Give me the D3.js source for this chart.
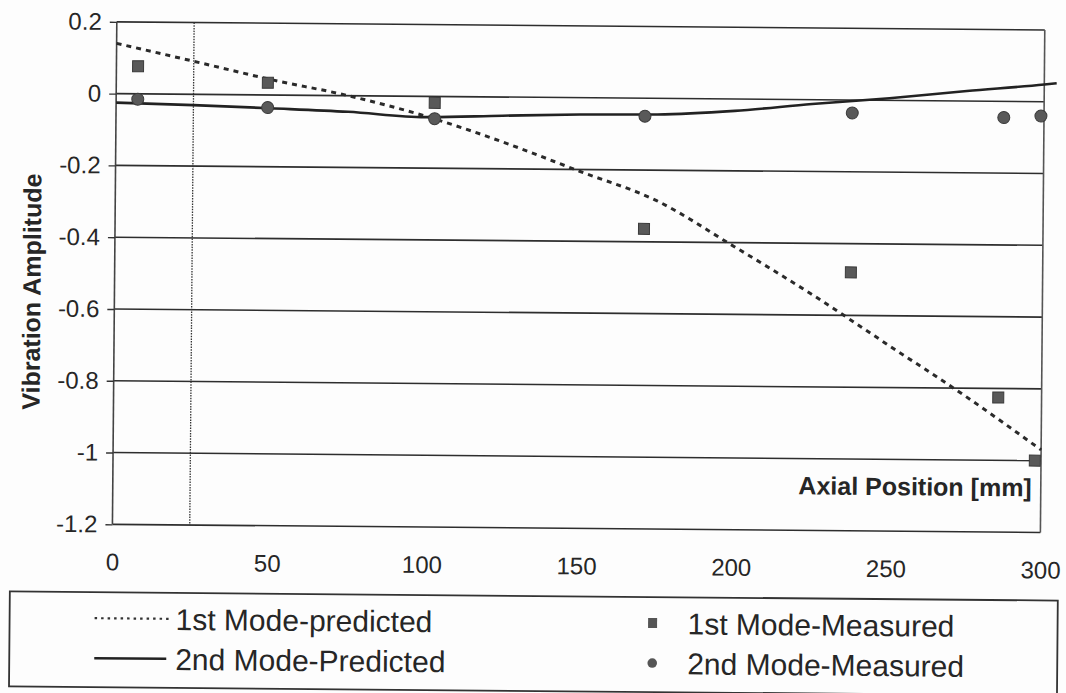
<!DOCTYPE html>
<html>
<head>
<meta charset="utf-8">
<script src="https://cdn.jsdelivr.net/npm/d3@7"></script>
<style>
  html, body { margin: 0; padding: 0; background: #fdfdfd; }
  svg { display: block; }
  text { font-family: "Liberation Sans", Arial, sans-serif; fill: #262626; }
</style>
</head>
<body>
<svg id="chart" width="1066" height="693"></svg>
<script>
// Axial positions (mm) for the predicted mode shapes
const predX = [0, 25, 50, 75, 100, 125, 150, 175, 200, 225, 250, 275, 300];
const mode1Predicted = [0.14, 0.092, 0.043, 0.0, -0.055, -0.125, -0.205, -0.285, -0.41, -0.54, -0.68, -0.82, -0.97];
const mode2PredX = [0, 25, 50, 75, 100, 125, 150, 175, 200, 225, 250, 275, 300, 304];
const mode2Predicted = [-0.025, -0.03, -0.037, -0.045, -0.058, -0.052, -0.047, -0.045, -0.033, -0.012, 0.006, 0.028, 0.048, 0.052];

// Measured points
const mode1MeasX = [7, 49, 103, 171, 238, 286, 298];
const mode1Measured = [0.077, 0.034, -0.018, -0.364, -0.48, -0.825, -1.0];
const mode2MeasX = [7, 49, 103, 171, 238, 287, 299];
const mode2Measured = [-0.015, -0.035, -0.062, -0.05, -0.036, -0.045, -0.04];

const xTicks = [0, 50, 100, 150, 200, 250, 300];
const yTicks = [0.2, 0, -0.2, -0.4, -0.6, -0.8, -1, -1.2];
const markerLine = 25; // vertical reference line position (mm)

const legendItems = [
  { label: "1st Mode-predicted", kind: "dotted", col: 0, row: 0 },
  { label: "2nd Mode-Predicted", kind: "solid", col: 0, row: 1 },
  { label: "1st Mode-Measured", kind: "square", col: 1, row: 0 },
  { label: "2nd Mode-Measured", kind: "circle", col: 1, row: 1 }
];

const svg = d3.select("#chart");
const root = svg.append("g").attr("transform", "rotate(0.5,533,346)");

const plot = { left: 114, right: 1042, top: 25.5, bottom: 528 };
const x = d3.scaleLinear().domain([0, 300]).range([plot.left, plot.right]);
const y = d3.scaleLinear().domain([-1.2, 0.2]).range([plot.bottom, plot.top]);

// horizontal gridlines
root.append("g").selectAll("line").data(yTicks).join("line")
  .attr("x1", plot.left).attr("x2", plot.right)
  .attr("y1", d => y(d)).attr("y2", d => y(d))
  .attr("stroke", "#2e2e2e").attr("stroke-width", 1.6);

// left / right frame
root.append("line").attr("x1", plot.left).attr("x2", plot.left)
  .attr("y1", plot.top).attr("y2", plot.bottom)
  .attr("stroke", "#444").attr("stroke-width", 1.6);
root.append("line").attr("x1", plot.right).attr("x2", plot.right)
  .attr("y1", plot.top).attr("y2", plot.bottom)
  .attr("stroke", "#555").attr("stroke-width", 1.6);

// y axis (ticks and labels)
const yAxis = d3.axisLeft(y).tickValues(yTicks).tickSize(7).tickPadding(8)
  .tickFormat(d => d3.format("")(Math.round(d * 10) / 10).replace("−", "-"));
const yg = root.append("g").attr("transform", `translate(${plot.left},0)`).call(yAxis);
yg.select(".domain").remove();
yg.selectAll(".tick line").attr("stroke", "#333").attr("stroke-width", 1.4);
yg.selectAll(".tick text").attr("font-size", 24).attr("fill", "#262626")
  .attr("font-family", "Liberation Sans, Arial, sans-serif").attr("x", -15);

// x axis labels (no tick marks)
const xAxis = d3.axisBottom(x).tickValues(xTicks).tickSize(0).tickPadding(0);
const xg = root.append("g").attr("transform", `translate(0,${plot.bottom})`).call(xAxis);
xg.select(".domain").remove();
xg.selectAll(".tick text").attr("font-size", 24).attr("fill", "#262626")
  .attr("font-family", "Liberation Sans, Arial, sans-serif")
  .attr("dy", null).attr("y", 46);

// vertical dotted reference line
root.append("line")
  .attr("x1", x(markerLine)).attr("x2", x(markerLine))
  .attr("y1", plot.top).attr("y2", plot.bottom)
  .attr("stroke", "#333").attr("stroke-width", 1.3)
  .attr("stroke-dasharray", "1.5,1.2");

// axis titles
root.append("text")
  .attr("transform", `translate(40,296) rotate(-90)`)
  .attr("text-anchor", "middle").attr("font-size", 25).attr("font-weight", "bold")
  .text("Vibration Amplitude");
root.append("text")
  .attr("x", 1033).attr("y", 492).attr("text-anchor", "end")
  .attr("font-size", 25).attr("font-weight", "bold")
  .text("Axial Position [mm]");

// predicted curves
const line = d3.line().curve(d3.curveMonotoneX);
root.append("path")
  .attr("d", line(predX.map((d, i) => [x(d), y(mode1Predicted[i])])))
  .attr("fill", "none").attr("stroke", "#2a2a2a").attr("stroke-width", 3)
  .attr("stroke-dasharray", "5,5");
root.append("path")
  .attr("d", line(mode2PredX.map((d, i) => [x(d), y(mode2Predicted[i])])))
  .attr("fill", "none").attr("stroke", "#222").attr("stroke-width", 2.6);

// measured markers
const sq = 11;
root.append("g").selectAll("rect").data(mode1MeasX).join("rect")
  .attr("x", (d) => x(d) - sq / 2)
  .attr("y", (d, i) => y(mode1Measured[i]) - sq / 2)
  .attr("width", sq).attr("height", sq)
  .attr("fill", "#595959").attr("stroke", "#3a3a3a").attr("stroke-width", 1);
root.append("g").selectAll("circle").data(mode2MeasX).join("circle")
  .attr("cx", d => x(d))
  .attr("cy", (d, i) => y(mode2Measured[i]))
  .attr("r", 6)
  .attr("fill", "#595959").attr("stroke", "#3a3a3a").attr("stroke-width", 1);

// legend
const lg = root.append("g");
lg.append("rect").attr("x", 12).attr("y", 596).attr("width", 1048).attr("height", 95)
  .attr("fill", "none").attr("stroke", "#333").attr("stroke-width", 1.8);
const colX = [97, 655];
const rowY = [633, 673];
legendItems.forEach(it => {
  const cx = colX[it.col], by = rowY[it.row];
  const my = by - 11;
  if (it.kind === "dotted") {
    lg.append("line").attr("x1", cx).attr("x2", cx + 74).attr("y1", my).attr("y2", my)
      .attr("stroke", "#333").attr("stroke-width", 2.2).attr("stroke-dasharray", "2.5,4");
  } else if (it.kind === "solid") {
    lg.append("line").attr("x1", cx).attr("x2", cx + 72).attr("y1", my).attr("y2", my)
      .attr("stroke", "#222").attr("stroke-width", 2.4);
  } else if (it.kind === "square") {
    lg.append("rect").attr("x", cx - 4.5).attr("y", my - 5).attr("width", 9).attr("height", 10)
      .attr("fill", "#555");
  } else {
    lg.append("circle").attr("cx", cx).attr("cy", my).attr("r", 4.8).attr("fill", "#555");
  }
  lg.append("text")
    .attr("x", it.col === 0 ? cx + 81 : cx + 35).attr("y", by)
    .attr("font-size", 30).text(it.label);
});
</script>
</body>
</html>
